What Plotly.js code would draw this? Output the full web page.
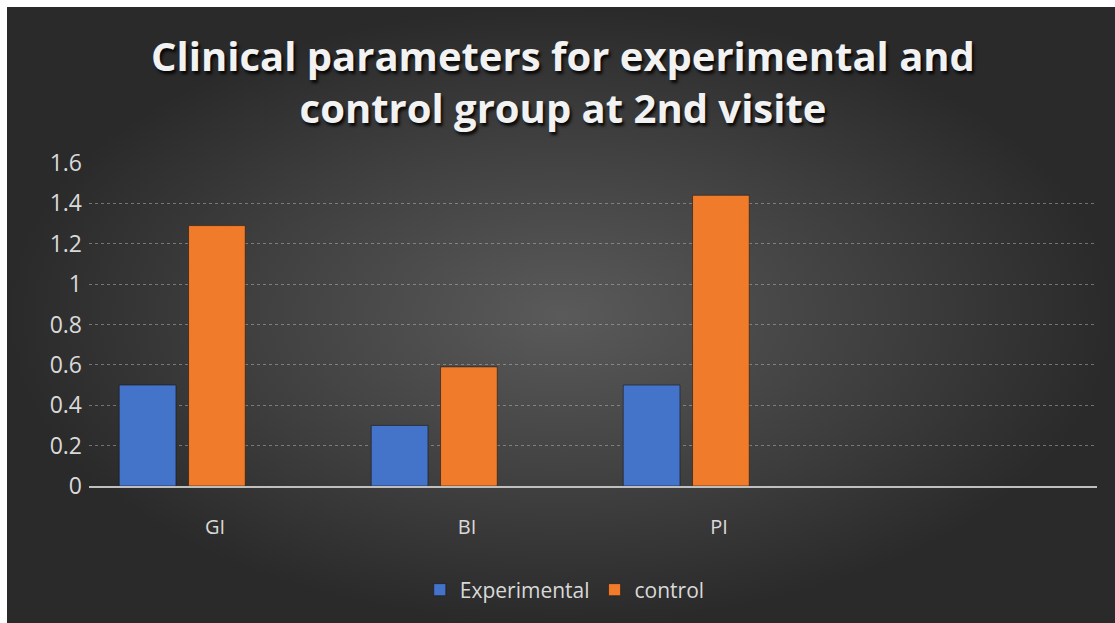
<!DOCTYPE html>
<html>
<head>
<meta charset="utf-8">
<script src="https://cdn.plot.ly/plotly-3.0.1.min.js"></script>
<style>
  html, body { margin: 0; padding: 0; background: #ffffff; width: 1115px; height: 623px; overflow: hidden; }
  #chart {
    position: absolute; left: 7px; top: 7px; width: 1108px; height: 616px;
    background: radial-gradient(ellipse closest-side at 50% 50%, #5a5a5a 0%, #3e3e3e 60%, #2a2a2a 100%);
    background-color: #2a2a2a;
  }
</style>
</head>
<body>
<div id="chart"></div>
<script>
const categories = ["GI", "BI", "PI"];
const experimental = [0.5, 0.3, 0.5];
const control = [1.29, 0.59, 1.44];
const seriesNames = ["Experimental", "control"];
const yTicks = [0, 0.2, 0.4, 0.6, 0.8, 1, 1.2, 1.4, 1.6];
const yTickLabels = ["0", "0.2", "0.4", "0.6", "0.8", "1", "1.2", "1.4", "1.6"];

const traces = [
  {
    type: "bar", name: seriesNames[0], x: categories, y: experimental,
    offset: -0.38, width: 0.225,
    marker: { color: "#4473CA", line: { color: "rgba(20,20,20,0.55)", width: 1 } },
    hoverinfo: "x+y+name"
  },
  {
    type: "bar", name: seriesNames[1], x: categories, y: control,
    offset: -0.105, width: 0.225,
    marker: { color: "#F07B2A", line: { color: "rgba(20,20,20,0.55)", width: 1 } },
    hoverinfo: "x+y+name"
  }
];

const layout = {
  width: 1108, height: 616,
  paper_bgcolor: "rgba(0,0,0,0)",
  plot_bgcolor: "rgba(0,0,0,0)",
  margin: { l: 82, r: 18, t: 156, b: 137 },
  title: {
    text: "Clinical parameters for experimental and<br>control group at 2nd visite",
    font: { family: "Open Sans, sans-serif", size: 40, color: "#f2f2f2", weight: "bold",
            shadow: "2px 3px 3px rgba(0,0,0,0.85)" },
    x: 556 / 1108, xanchor: "center", xref: "container",
    y: 1 - 64 / 616, yanchor: "top", yref: "container"
  },
  font: { family: "Open Sans, sans-serif", color: "#d9d9d9" },
  xaxis: {
    type: "category",
    range: [-0.5, 3.5],
    showgrid: false,
    showline: true, linecolor: "#bfbfbf", linewidth: 1.5,
    ticks: "", tickfont: { size: 20, color: "#d9d9d9" },
    ticklabelstandoff: 22,
    zeroline: false, fixedrange: true
  },
  yaxis: {
    range: [0, 1.6],
    tickmode: "array", tickvals: yTicks, ticktext: yTickLabels,
    showgrid: true, gridcolor: "rgba(200,200,200,0.45)", griddash: "dot", gridwidth: 1,
    zeroline: false, showline: false, ticks: "",
    tickfont: { size: 23, color: "#d9d9d9" },
    ticklabelstandoff: 6,
    fixedrange: true
  },
  showlegend: true,
  legend: {
    orientation: "h",
    x: 0.472, xanchor: "center",
    y: -0.322, yanchor: "middle",
    font: { size: 21, color: "#d9d9d9" },
    bgcolor: "rgba(0,0,0,0)",
    itemwidth: 30
  }
};

Plotly.newPlot("chart", traces, layout, { displayModeBar: false });
</script>
</body>
</html>
